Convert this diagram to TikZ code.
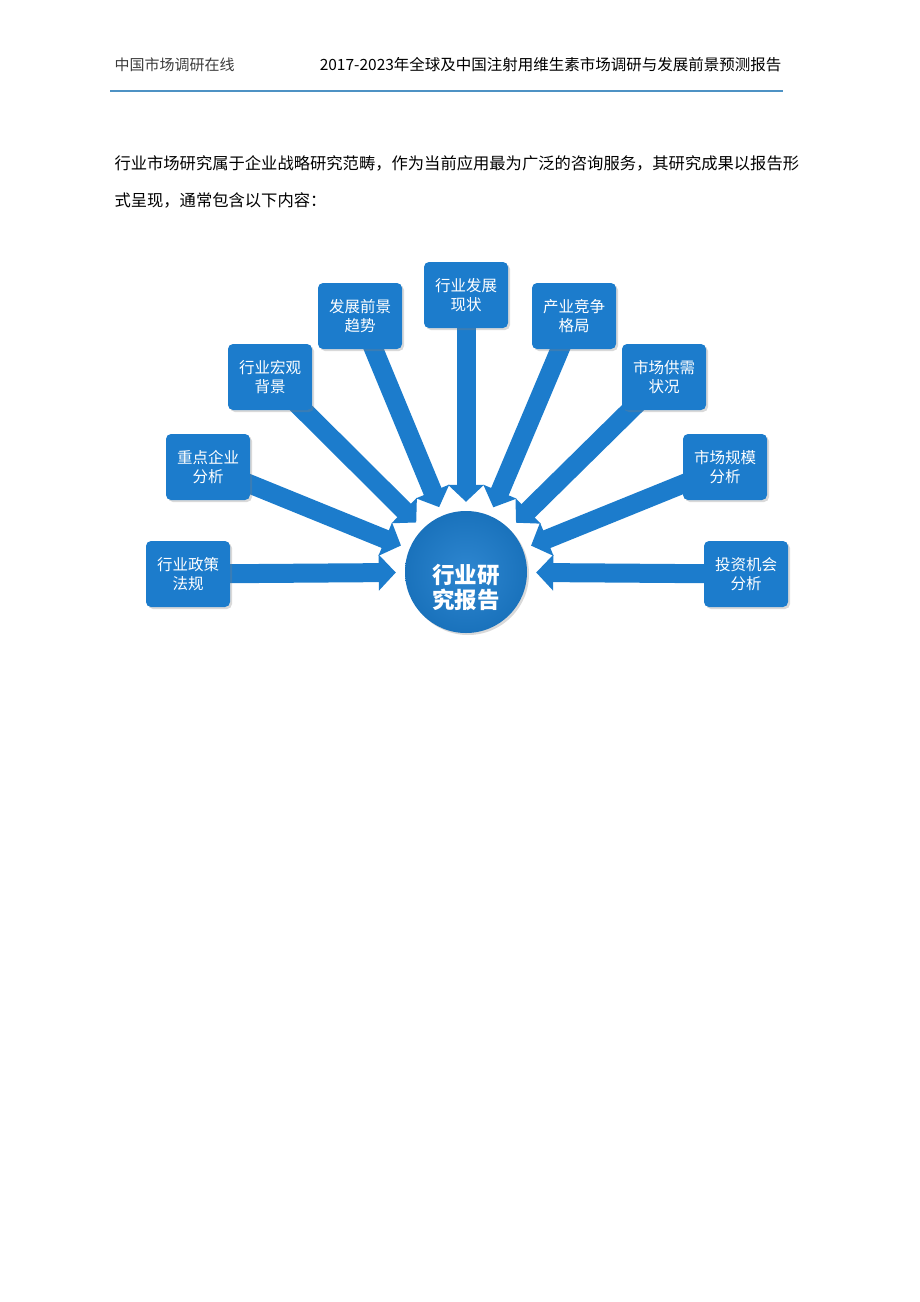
\documentclass[tikz,border=0pt]{standalone}
\usepackage{fontspec}
\setmainfont{Noto Sans CJK SC}
\usetikzlibrary{arrows.meta,shadows}

\definecolor{topicblue}{RGB}{28,124,204}
\definecolor{ruleblue}{RGB}{78,146,196}
\definecolor{headgray}{RGB}{60,60,60}

\pgfdeclarelayer{background}
\pgfsetlayers{background,main}

\tikzset{
  topic/.style={fill=topicblue, rounded corners=5pt, minimum width=84pt,
    minimum height=66pt, inner sep=0pt, text=white, align=center,
    font=\fontsize{15.5}{19}\selectfont,
    drop shadow={opacity=0.3, shadow xshift=2pt, shadow yshift=-2pt}},
  core/.style={circle, minimum size=122pt, inner sep=0pt,
    inner color=topicblue!92!white, outer color=topicblue!92!black,
    drop shadow={opacity=0.3, shadow xshift=2pt, shadow yshift=-2pt}},
  coretext/.style={text=white, align=center,
    font=\fontsize{22.5}{25}\selectfont\bfseries},
  feed/.style={draw=topicblue, line width=19pt,
    -{Triangle[length=17pt,width=35pt]}, shorten >=9pt},
}

\begin{document}
\begin{tikzpicture}[x=1pt,y=-1pt]
  \useasboundingbox (0,0) rectangle (920,1302);

  % header
  \node[anchor=west, text=headgray, font=\fontsize{15}{18}\selectfont] (hdleft) at (111,65) {中国市场调研在线};
  \node[anchor=east, text=black, font=\fontsize{15.5}{18}\selectfont] (hdright) at (785,65) {2017-2023年全球及中国注射用维生素市场调研与发展前景预测报告};
  \coordinate (ruleL) at (110,91);
  \coordinate (ruleR) at (783,91);
  \draw[ruleblue, line width=1.5pt] (ruleL) -- (ruleR);

  % intro text
  \node[anchor=west, font=\fontsize{16.3}{20}\selectfont] (introA) at (111,163) {行业市场研究属于企业战略研究范畴，作为当前应用最为广泛的咨询服务，其研究成果以报告形};
  \node[anchor=west, font=\fontsize{16.3}{20}\selectfont] (introB) at (111,200) {式呈现，通常包含以下内容：};

  % centre
  \node[core] (core) at (466,572) {};
  \node[coretext] (corelabel) at ([yshift=-15pt]core.center) {行业研\\究报告};

  % topics
  \node[topic] (policy)  at (188,574) {行业政策\\法规};
  \node[topic] (firms)   at (208,467) {重点企业\\分析};
  \node[topic] (macro)   at (270,377) {行业宏观\\背景};
  \node[topic] (outlook) at (360,316) {发展前景\\趋势};
  \node[topic] (status)  at (466,295) {行业发展\\现状};
  \node[topic] (rivalry) at (574,316) {产业竞争\\格局};
  \node[topic] (supply)  at (664,377) {市场供需\\状况};
  \node[topic] (scale)   at (725,467) {市场规模\\分析};
  \node[topic] (invest)  at (746,574) {投资机会\\分析};

  \begin{pgfonlayer}{background}
    \foreach \t in {policy,firms,macro,outlook,status,rivalry,supply,scale,invest}
      \draw[feed] (\t.center) -- (core);
  \end{pgfonlayer}
\end{tikzpicture}
\end{document}
